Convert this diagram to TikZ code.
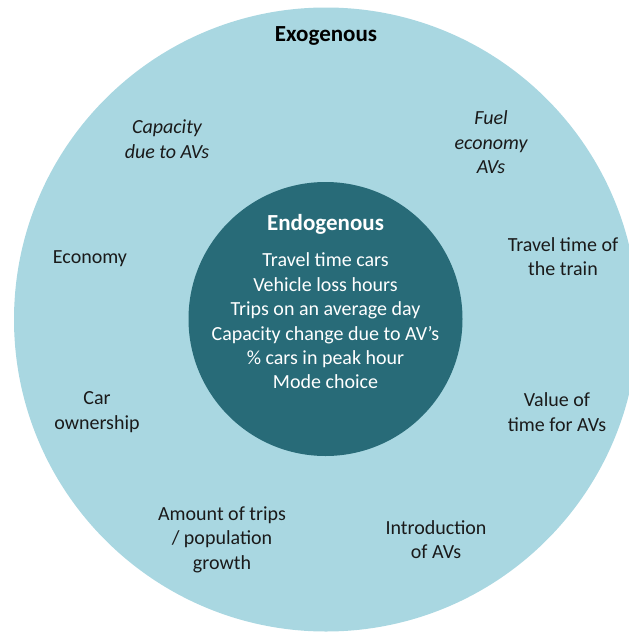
\documentclass[tikz,border=0pt]{standalone}
\usepackage{fontspec}
\setmainfont{Carlito}
\definecolor{outerblue}{HTML}{A9D7E1}
\definecolor{innerteal}{HTML}{286B78}
\definecolor{txt}{HTML}{1A1A1A}
\begin{document}
\begin{tikzpicture}[x=1pt,y=-1pt,
  lbl/.style={align=center,text=txt,inner sep=0pt,font=\fontsize{20}{24.4}\selectfont},
  ilbl/.style={lbl,font=\fontsize{20}{24.4}\selectfont\itshape},
  title/.style={inner sep=0pt,font=\fontsize{23}{28}\selectfont\bfseries}]
\useasboundingbox (0,0) rectangle (629,632);
\clip (0,0) rectangle (629,632);
\fill[outerblue] (326,319.5) circle (312);
\fill[innerteal] (325.5,319) circle (137);
\node[title,text=black] (exo) at (326,36) {Exogenous};
\node[ilbl] (cap) at (167,139) {Capacity\\due to AVs};
\node[ilbl] (fuel) at (491,142.5) {Fuel\\economy\\AVs};
\node[lbl] (econ) at (90,258.5) {Economy};
\node[lbl] (train) at (563,256.5) {Travel time of\\the train};
\node[lbl] (car) at (97,412) {Car\\ownership};
\node[lbl] (vot) at (557,412) {Value of\\time for AVs};
\node[lbl] (trips) at (222,539.5) {Amount of trips\\/ population\\growth};
\node[lbl] (intro) at (436,539.5) {Introduction\\of AVs};
\node[title,text=white] (endo) at (325.5,224) {Endogenous};
\node[lbl,text=white] (list) at (325.5,321) {Travel time cars\\Vehicle loss hours\\Trips on an average day\\Capacity change due to AV’s\\\% cars in peak hour\\Mode choice};
\end{tikzpicture}
\end{document}
